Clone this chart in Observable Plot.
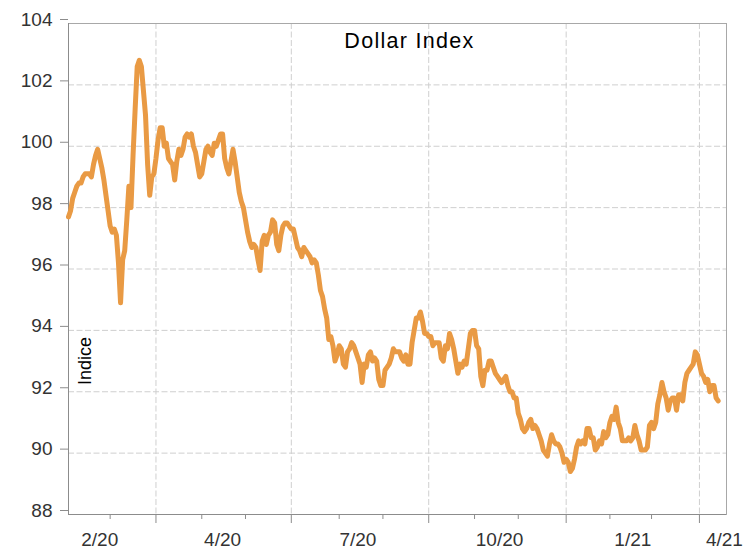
<!DOCTYPE html>
<html>
<head>
<meta charset="utf-8">
<script src="https://cdn.jsdelivr.net/npm/d3@7"></script>
<script src="https://cdn.jsdelivr.net/npm/@observablehq/plot@0.6"></script>
<style>
  html, body { margin: 0; padding: 0; background: #fff; }
  #chart svg { display: block; }
</style>
</head>
<body>
<div id="chart"></div>
<script>
const title = "Dollar Index";
const yLabel = "Indice";

const obsDates = [
"2020-02-03","2020-02-04","2020-02-05","2020-02-06","2020-02-07","2020-02-10","2020-02-11","2020-02-12","2020-02-13","2020-02-14",
"2020-02-17","2020-02-18","2020-02-19","2020-02-20","2020-02-21","2020-02-24","2020-02-25","2020-02-26","2020-02-27","2020-02-28",
"2020-03-02","2020-03-03","2020-03-04","2020-03-05","2020-03-06","2020-03-09","2020-03-10","2020-03-11","2020-03-12","2020-03-13",
"2020-03-16","2020-03-17","2020-03-18","2020-03-19","2020-03-20","2020-03-23","2020-03-24","2020-03-25","2020-03-26","2020-03-27",
"2020-03-30","2020-03-31",
"2020-04-01","2020-04-02","2020-04-03","2020-04-06","2020-04-07","2020-04-08","2020-04-09","2020-04-10","2020-04-13","2020-04-14",
"2020-04-15","2020-04-16","2020-04-17","2020-04-20","2020-04-21","2020-04-22","2020-04-23","2020-04-24","2020-04-27","2020-04-28",
"2020-04-29","2020-04-30",
"2020-05-01","2020-05-04","2020-05-05","2020-05-06","2020-05-07","2020-05-08","2020-05-11","2020-05-12","2020-05-13","2020-05-14",
"2020-05-15","2020-05-18","2020-05-19","2020-05-20","2020-05-21","2020-05-22","2020-05-25","2020-05-26","2020-05-27","2020-05-28",
"2020-05-29",
"2020-06-01","2020-06-02","2020-06-03","2020-06-04","2020-06-05","2020-06-08","2020-06-09","2020-06-10","2020-06-11","2020-06-12",
"2020-06-15","2020-06-16","2020-06-17","2020-06-18","2020-06-19","2020-06-22","2020-06-23","2020-06-24","2020-06-25","2020-06-26",
"2020-06-29","2020-06-30",
"2020-07-01","2020-07-02","2020-07-03","2020-07-06","2020-07-07","2020-07-08","2020-07-09","2020-07-10","2020-07-13","2020-07-14",
"2020-07-15","2020-07-16","2020-07-17","2020-07-20","2020-07-21","2020-07-22","2020-07-23","2020-07-24","2020-07-27","2020-07-28",
"2020-07-29","2020-07-30","2020-07-31",
"2020-08-03","2020-08-04","2020-08-05","2020-08-06","2020-08-07","2020-08-10","2020-08-11","2020-08-12","2020-08-13","2020-08-14",
"2020-08-17","2020-08-18","2020-08-19","2020-08-20","2020-08-21","2020-08-24","2020-08-25","2020-08-26","2020-08-27","2020-08-28",
"2020-08-31",
"2020-09-01","2020-09-02","2020-09-03","2020-09-04","2020-09-07","2020-09-08","2020-09-09","2020-09-10","2020-09-11","2020-09-14",
"2020-09-15","2020-09-16","2020-09-17","2020-09-18","2020-09-21","2020-09-22","2020-09-23","2020-09-24","2020-09-25","2020-09-28",
"2020-09-29","2020-09-30",
"2020-10-01","2020-10-02","2020-10-05","2020-10-06","2020-10-07","2020-10-08","2020-10-09","2020-10-12","2020-10-13","2020-10-14",
"2020-10-15","2020-10-16","2020-10-19","2020-10-20","2020-10-21","2020-10-22","2020-10-23","2020-10-26","2020-10-27","2020-10-28",
"2020-10-29","2020-10-30",
"2020-11-02","2020-11-03","2020-11-04","2020-11-05","2020-11-06","2020-11-09","2020-11-10","2020-11-11","2020-11-12","2020-11-13",
"2020-11-16","2020-11-17","2020-11-18","2020-11-19","2020-11-20","2020-11-23","2020-11-24","2020-11-25","2020-11-26","2020-11-27",
"2020-11-30",
"2020-12-01","2020-12-02","2020-12-03","2020-12-04","2020-12-07","2020-12-08","2020-12-09","2020-12-10","2020-12-11","2020-12-14",
"2020-12-15","2020-12-16","2020-12-17","2020-12-18","2020-12-21","2020-12-22","2020-12-23","2020-12-24","2020-12-25","2020-12-28",
"2020-12-29","2020-12-30","2020-12-31",
"2021-01-01","2021-01-04","2021-01-05","2021-01-06","2021-01-07","2021-01-08","2021-01-11","2021-01-12","2021-01-13","2021-01-14",
"2021-01-15","2021-01-18","2021-01-19","2021-01-20","2021-01-21","2021-01-22","2021-01-25","2021-01-26","2021-01-27","2021-01-28",
"2021-01-29",
"2021-02-01","2021-02-02","2021-02-03","2021-02-04","2021-02-05","2021-02-08","2021-02-09","2021-02-10","2021-02-11","2021-02-12",
"2021-02-15","2021-02-16","2021-02-17","2021-02-18","2021-02-19","2021-02-22","2021-02-23","2021-02-24","2021-02-25","2021-02-26",
"2021-03-01","2021-03-02","2021-03-03","2021-03-04","2021-03-05","2021-03-08","2021-03-09","2021-03-10","2021-03-11","2021-03-12",
"2021-03-15","2021-03-16","2021-03-17","2021-03-18","2021-03-19","2021-03-22","2021-03-23","2021-03-24","2021-03-25","2021-03-26",
"2021-03-29","2021-03-30","2021-03-31",
"2021-04-01","2021-04-02","2021-04-05","2021-04-06","2021-04-07","2021-04-08","2021-04-09","2021-04-12","2021-04-13","2021-04-14"
];

const obsValues = [
97.7,97.9,98.3,98.5,98.7,98.8,98.8,99.0,99.1,99.1,
99.1,99.0,99.4,99.7,99.9,99.6,99.3,98.9,98.4,97.9,
97.4,97.2,97.3,97.1,96.2,94.9,96.3,96.6,97.6,98.7,
98.0,99.7,101.2,102.6,102.8,102.6,101.8,101.0,99.4,98.4,
99.0,99.1,
99.6,100.2,100.6,100.6,100.0,100.1,99.6,99.5,99.4,98.9,
99.5,99.9,99.7,99.9,100.3,100.4,100.3,100.4,100.0,99.8,
99.4,99.0,
99.1,99.5,99.9,100.0,99.8,99.7,100.1,100.0,100.2,100.4,
100.4,99.6,99.3,99.1,99.5,99.9,99.5,99.0,98.5,98.2,
98.0,
97.6,97.2,96.9,96.7,96.8,96.7,96.3,95.95,96.9,97.1,
96.8,97.1,97.2,97.6,97.5,96.8,96.6,97.1,97.4,97.5,
97.5,97.4,
97.3,97.3,97.0,96.7,96.6,96.4,96.7,96.6,96.5,96.4,
96.2,96.3,96.2,95.8,95.3,95.1,94.7,94.4,93.7,93.8,
93.5,93.0,93.2,
93.5,93.4,92.9,92.8,93.3,93.4,93.6,93.5,93.3,93.1,
92.9,92.3,92.9,92.8,93.2,93.3,93.0,93.1,93.0,92.4,
92.2,
92.2,92.7,92.8,92.9,93.1,93.4,93.3,93.3,93.3,93.1,
93.0,93.2,92.9,92.9,93.6,94.0,94.4,94.4,94.6,94.3,
93.9,93.9,
93.8,93.8,93.5,93.6,93.6,93.6,93.1,93.0,93.5,93.4,
93.9,93.7,93.4,93.0,92.6,92.9,92.8,93.0,92.9,93.4,
93.9,94.0,
94.0,93.5,93.4,92.5,92.2,92.7,92.7,93.0,93.0,92.8,
92.6,92.5,92.4,92.3,92.4,92.5,92.2,92.0,92.0,91.8,
91.8,
91.3,91.1,90.8,90.7,90.8,91.0,91.1,90.8,90.9,90.8,
90.6,90.4,90.1,90.0,89.9,90.3,90.6,90.4,90.3,90.3,
90.2,90.0,89.7,
89.8,89.7,89.4,89.5,89.8,90.2,90.4,90.3,90.4,90.3,
90.8,90.8,90.5,90.5,90.1,90.2,90.4,90.3,90.7,90.5,
90.6,
91.0,91.2,91.1,91.5,91.0,90.8,90.4,90.4,90.4,90.5,
90.4,90.5,90.9,90.6,90.4,90.1,90.1,90.1,90.2,90.9,
91.0,90.8,91.0,91.6,91.9,92.3,92.0,91.8,91.4,91.7,
91.8,91.8,91.4,91.9,91.9,91.7,92.3,92.6,92.7,92.8,
92.9,93.3,93.2,
92.9,92.6,92.5,92.3,92.4,92.0,92.2,92.2,91.8,91.7
];

const yTicks = [88, 90, 92, 94, 96, 98, 100, 102, 104];
const yDomain = [88, 104];
const monthTickDates = ["2020-03-02","2020-05-01","2020-06-01","2020-08-03","2020-09-01","2020-11-02","2020-12-01","2021-02-01","2021-03-01"];
const quarterTickDates = ["2020-04-01","2020-07-01","2020-10-01","2021-01-01","2021-04-01"];
const xLabelDates = ["2020-02-24","2020-05-15","2020-08-14","2020-11-18","2021-02-16","2021-04-19"];
const xLabels = ["2/20","4/20","7/20","10/20","1/21","4/21"];
const xDomainEndDate = "2021-04-20";
const yLabelValue = 93;

// EViews-style 5-day (weekday) observation index
const [sy, sm, sd] = obsDates[0].split("-").map(Number);
const startUTC = Date.UTC(sy, sm - 1, sd);
function obsIndex(s) {
  const [y, m, d] = s.split("-").map(Number);
  const end = Date.UTC(y, m - 1, d);
  let n = 0;
  for (let t = startUTC; t < end; t += 86400000) {
    const wd = new Date(t).getUTCDay();
    if (wd !== 0 && wd !== 6) n++;
  }
  return n;
}

const series = obsDates.map((d, k) => ({i: obsIndex(d), v: obsValues[k]}));
const monthIdx = monthTickDates.map(obsIndex);
const quarterIdx = quarterTickDates.map(obsIndex);
const labelIdx = xLabelDates.map(obsIndex);
const labelMap = new Map(labelIdx.map((i, k) => [i, xLabels[k]]));

const font = "'Liberation Sans', Arial, Helvetica, sans-serif";
const axisGray = "#8c8c8c";
const gridGray = "#cfcfcf";

const chart = Plot.plot({
  width: 754,
  height: 550,
  marginLeft: 68,
  marginRight: 28,
  marginTop: 23,
  marginBottom: 36,
  style: {fontFamily: font, fontSize: "19px", color: "#333", background: "#fff"},
  x: {type: "linear", domain: [0, obsIndex(xDomainEndDate)], label: null},
  y: {domain: yDomain, label: null},
  marks: [
    Plot.gridY(yTicks, {stroke: gridGray, strokeOpacity: 1, strokeDasharray: "6,2.5"}),
    Plot.gridX(quarterIdx, {stroke: gridGray, strokeOpacity: 1, strokeDasharray: "6,2.5"}),
    Plot.frame({stroke: "#a8a8a8"}),
    Plot.ruleY([yDomain[0]], {stroke: axisGray}),
    Plot.ruleX([0], {stroke: axisGray}),
    Plot.axisY(yTicks, {tickSize: 8, tickPadding: 8, stroke: axisGray, fill: "#333", fontSize: 19, dy: -4, label: null, tickFormat: d => String(d)}),
    Plot.axisX(monthIdx, {tickSize: 5, tickFormat: () => "", stroke: axisGray, label: null}),
    Plot.axisX(quarterIdx, {tickSize: 9, tickFormat: () => "", stroke: axisGray, label: null}),
    Plot.axisX(labelIdx, {tickSize: 0, tickPadding: 18, tickFormat: d => labelMap.get(d), fill: "#333", fontSize: 19, label: null}),
    Plot.line(series, {x: "i", y: "v", stroke: "#E99A44", strokeWidth: 5, strokeLinejoin: "round", strokeLinecap: "round"}),
    Plot.text([title], {frameAnchor: "top", lineAnchor: "middle", textAnchor: "middle", dx: 12, dy: 18, fontSize: 21.5, fill: "#000"}),
    Plot.text([{label: yLabel, y: yLabelValue}], {text: "label", y: "y", frameAnchor: "left", textAnchor: "middle", lineAnchor: "middle", dx: 17, rotate: -90, fontSize: 18, fill: "#000"})
  ]
});

d3.select(chart).selectAll("text")
  .filter(function() { return this.textContent === title; })
  .attr("letter-spacing", "1.3px");

document.getElementById("chart").appendChild(chart);
</script>
</body>
</html>
